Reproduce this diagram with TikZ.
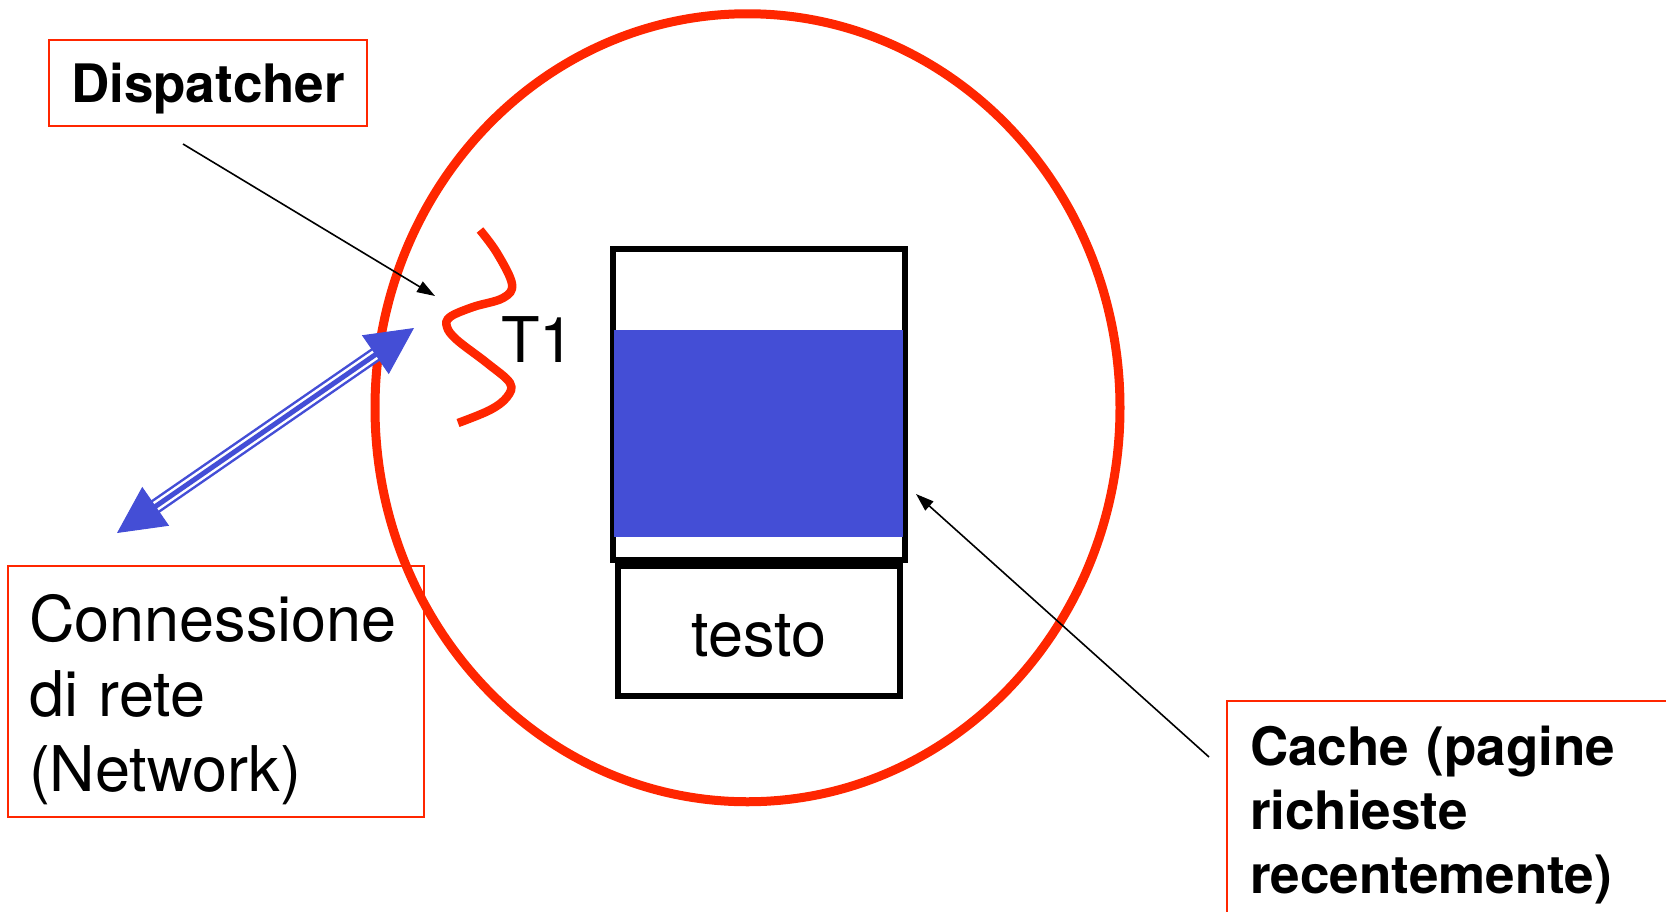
\documentclass[tikz,border=0pt]{standalone}
\usepackage{fontspec}
\setmainfont{TeX Gyre Heros}
\usetikzlibrary{arrows.meta}
\definecolor{procred}{HTML}{FF2600}
\definecolor{netblue}{HTML}{444ED6}

\begin{document}
\begin{tikzpicture}[x=1pt, y=-1pt,
  label box/.style={draw=procred, line width=2.5pt, outer sep=0pt, inner sep=0pt},
  pointer/.style={-{Triangle[length=18pt, width=12pt]}, line width=1.6pt},
  big/.style={font=\fontsize{63}{75}\selectfont},
  bigbold/.style={font=\fontsize{53}{64}\selectfont\bfseries}]
\useasboundingbox (0, 0) rectangle (1666, 911);
% process and thread
\draw [procred, line width=9pt] (747.5, 407.75) ellipse [x radius=372.5pt, y radius=394pt];
\draw [procred, line width=8.5pt] plot [smooth, tension=0.6] coordinates{(480, 230) (497, 253) (512, 284) (503, 298) (473, 307) (450, 317) (447, 327) (457, 340) (487, 363) (510, 383) (507, 397) (490, 410) (458, 423)};
\node [big, anchor=base west, inner sep=0pt] (t1) at (501, 362) {T1};
% memory
\node [draw, line width=6pt, minimum width=292pt, minimum height=311pt] (mem) at (758.5, 404) {};
\node [fill=netblue, minimum width=289pt, minimum height=207pt, inner sep=0pt] (pages) at (758.5, 433.5) {};
\node [draw, line width=6pt, big, text height=52pt, text depth=0pt, minimum width=282.5pt, minimum height=130pt] (text) at (759, 630.5) {testo};
% labels
\node [label box, bigbold, text depth=0pt, minimum width=318pt, minimum height=86pt] (disp) at (208, 83) {Dispatcher};
\node [label box, big, anchor=north west, inner xsep=21pt, text width=374pt, align=left, minimum height=251pt] (net) at (8, 566) {\rule{0pt}{63pt}Connessione\\di rete\\(Network)};
\node [label box, bigbold, anchor=north west, inner xsep=23pt, inner ysep=25pt, text width=440pt, align=left] (cache) at (1227, 701) {Cache (pagine\\richieste\\recentemente)};
% pointers
\coordinate (disp tail) at (183, 144);
\coordinate (disp head) at (435, 296);
\coordinate (cache tail) at (1209, 757);
\coordinate (cache head) at (916, 494);
\draw [pointer] (disp tail) -- (disp head);
\draw [pointer] (cache tail) -- (cache head);
% network link
\coordinate (net end) at (117, 533);
\coordinate (t1 end) at (414, 328);
\foreach \w/\c in {15/netblue, 10/white, 5/netblue}
  \draw [\c, line width=\w pt, shorten <=40pt, shorten >=40pt] (net end) -- (t1 end);
\draw [netblue, line width=1pt, {Triangle[length=47pt, width=47pt]}-{Triangle[length=47pt, width=47pt]}] (net end) -- (t1 end);
\end{tikzpicture}
\end{document}
